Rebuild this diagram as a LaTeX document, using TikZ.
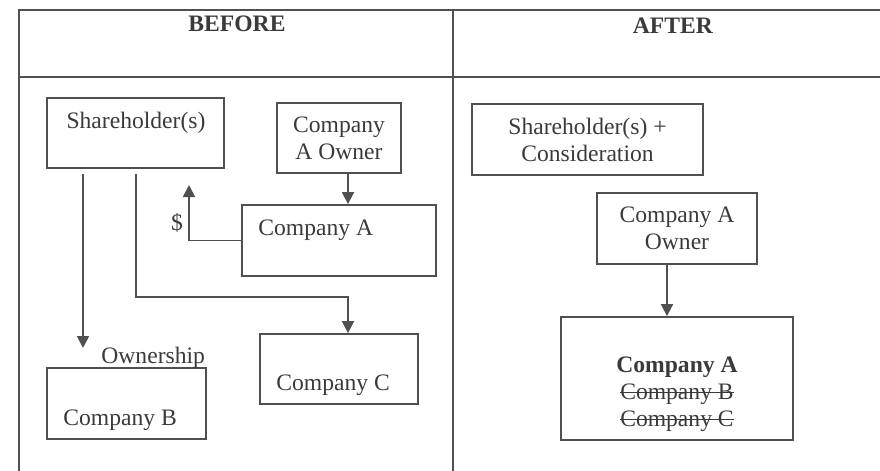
\documentclass[tikz,border=0pt]{standalone}
\usepackage{fontspec}
\setmainfont{Liberation Serif}
\usetikzlibrary{arrows.meta,calc}
\definecolor{inkgray}{HTML}{3A3A3A}
\definecolor{linegray}{HTML}{505050}
\newcommand\strikeout[1]{\leavevmode\setbox0\hbox{#1}\rlap{\rule[0.55ex]{\wd0}{0.5pt}}\box0}

\begin{document}
\begin{tikzpicture}[
  x=0.5pt, y=-0.5pt,
  every node/.style={font=\fontsize{11.8}{13.5}\selectfont, text=inkgray},
  box/.style={draw=linegray, line width=0.9pt, rectangle, inner sep=0pt, align=center},
  txt/.style={inner sep=0pt, anchor=base},
  arr/.style={-{Triangle[length=6pt,width=6pt]}, color=linegray, line width=0.9pt},
  grid/.style={draw=linegray, line width=0.7pt}
]
\useasboundingbox (0,0) rectangle (880,471);

% ---------- table ----------
\draw[grid] (19,471) -- (19,10) -- (880,10);
\draw[grid] (19,77) -- (880,77);
\draw[grid] (453,10) -- (453,471);
\node[txt] (before) at (237,32) {\textbf{BEFORE}};
\node[txt] (after)  at (673,33) {\textbf{AFTER}};

% ---------- before ----------
\node[box, minimum width=88.5pt, minimum height=35pt]   (SH)  at (135.5,133) {};
\node[txt] (SHt) at (136,128) {Shareholder(s)};
\node[box, minimum width=62pt, minimum height=35pt]     (CAO) at (339,138) {Company\\A Owner};
\node[box, minimum width=97pt, minimum height=35.5pt]   (CA)  at (339,240.5) {};
\node[txt, anchor=base west] (CAt) at (258,235) {Company A};
\node[box, minimum width=79pt, minimum height=35pt]     (CC)  at (339,369) {};
\node[txt, anchor=base west] (CCt) at (276,390) {Company C};
\node[box, minimum width=79.5pt, minimum height=35.5pt] (CB)  at (126.5,403.5) {};
\node[txt, anchor=base west] (CBt) at (63,425) {Company B};

\coordinate (SHa) at (83,174);
\coordinate (own) at (83,348);
\coordinate (SHb) at (136,174);
\coordinate (bend) at (136,297);
\coordinate (dol) at (189,185);

\draw[arr] ($(CAO.south)+(9,0)$) -- ($(CA.north)+(9,0)$);
\draw[arr] (CA.west) -| (dol);
\node[txt] (dollar) at (177,230) {\$};
\draw[arr] (SHa) -- (own);
\node[txt, anchor=base west] (ownl) at (101,363) {Ownership};
\draw[arr] (SHb) -- (bend) -| ($(CC.north)+(9,0)$);

% ---------- after ----------
\node[box, minimum width=115.5pt, minimum height=35.5pt] (SH2)  at (587.5,139.5) {Shareholder(s) +\\Consideration};
\node[box, minimum width=80pt, minimum height=35.5pt]    (CAO2) at (677,228.5) {Company A\\Owner};
\node[box, minimum width=116pt, minimum height=61.5pt]   (ABC)  at (677,378.5) {};
\node[inner sep=0pt, align=center] (ABCt) at (677,394) {\textbf{Company A}\\\strikeout{Company B}\\\strikeout{Company C}};

\draw[arr] ($(CAO2.south)+(-10,0)$) -- ($(ABC.north)+(-10,0)$);

\end{tikzpicture}
\end{document}
